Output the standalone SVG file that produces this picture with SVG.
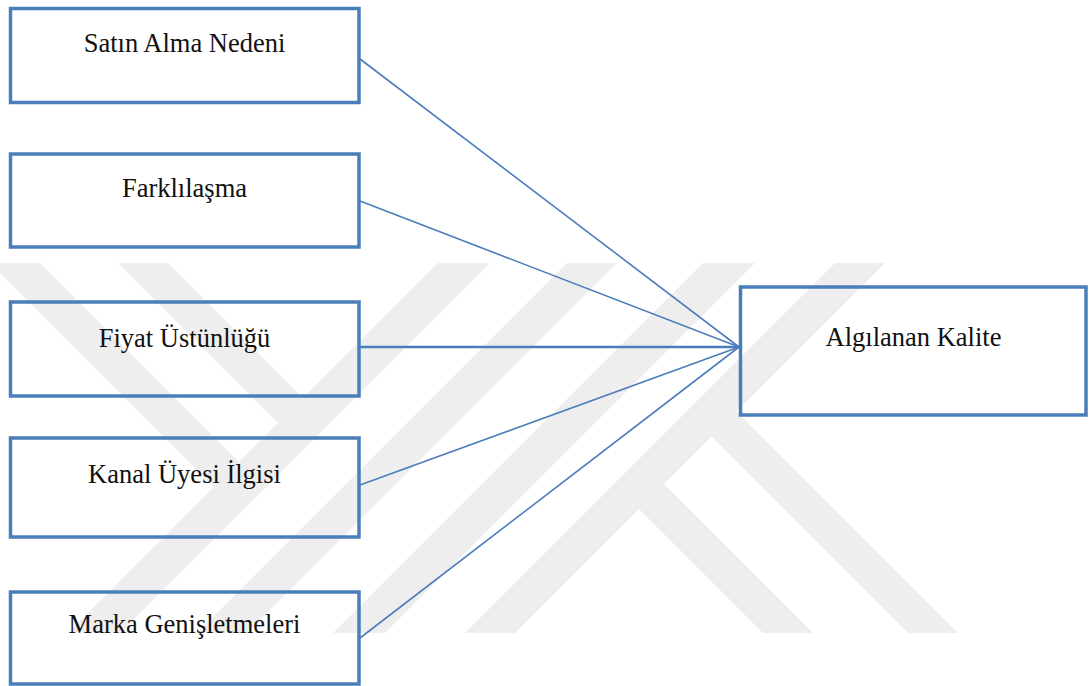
<svg xmlns="http://www.w3.org/2000/svg" width="1089" height="686" viewBox="0 0 1089 686">
  <style>
    .box { fill: none; stroke: #4a7ebb; stroke-width: 3.5; }
    .conn { stroke: #4a7ebb; stroke-width: 1.6; fill: none; }
    .lbl { font-family: "Liberation Serif", "Times New Roman", serif; font-size: 26.5px; fill: #111111; text-anchor: middle; }
    .wm { fill: #eeeeee; }
  </style>
  <rect x="0" y="0" width="1089" height="686" fill="#ffffff"/>
  <g id="watermark">
    <polygon class="wm" points="-10,263 40,263 252,475 227,500"/>
    <polygon class="wm" points="118,263 168,263 316,411 291,436"/>
    <polygon class="wm" points="438,263 490,263 120,633 68,633"/>
    <polygon class="wm" points="567,263 617,263 247,633 197,633"/>
    <polygon class="wm" points="703,263 755,263 385,633 333,633"/>
    <polygon class="wm" points="835,263 885,263 515,633 465,633"/>
    <polygon class="wm" points="651.5,471.5 813,633 763,633 626.5,496.5"/>
    <polygon class="wm" points="724,399 958,633 908,633 699,424"/>
  </g>
  <g id="connectors">
    <line class="conn" x1="360" y1="59" x2="739" y2="347"/>
    <line class="conn" x1="360" y1="201" x2="739" y2="347"/>
    <line class="conn" x1="360" y1="347" x2="739" y2="347" style="stroke-width:2.4"/>
    <line class="conn" x1="360" y1="485" x2="739" y2="347"/>
    <line class="conn" x1="360" y1="638" x2="739" y2="347"/>
  </g>
  <g id="node-satin-alma-nedeni">
    <rect class="box" x="10.5" y="8.5" width="348.5" height="94"/>
    <text class="lbl" x="184.5" y="52">Satın Alma Nedeni</text>
  </g>
  <g id="node-farklilasma">
    <rect class="box" x="10.5" y="154" width="348.5" height="93"/>
    <text class="lbl" x="184.5" y="197">Farklılaşma</text>
  </g>
  <g id="node-fiyat-ustunlugu">
    <rect class="box" x="10.5" y="302" width="348.5" height="94"/>
    <text class="lbl" x="184.5" y="346.5">Fiyat Üstünlüğü</text>
  </g>
  <g id="node-kanal-uyesi-ilgisi">
    <rect class="box" x="10.5" y="438" width="348.5" height="99"/>
    <text class="lbl" x="184.5" y="483">Kanal Üyesi İlgisi</text>
  </g>
  <g id="node-marka-genisletmeleri">
    <rect class="box" x="10.5" y="592" width="348.5" height="92"/>
    <text class="lbl" x="184.5" y="632.5">Marka Genişletmeleri</text>
  </g>
  <g id="node-algilanan-kalite">
    <rect class="box" x="740.5" y="287" width="345.5" height="128"/>
    <text class="lbl" x="913.5" y="346">Algılanan Kalite</text>
  </g>
</svg>
